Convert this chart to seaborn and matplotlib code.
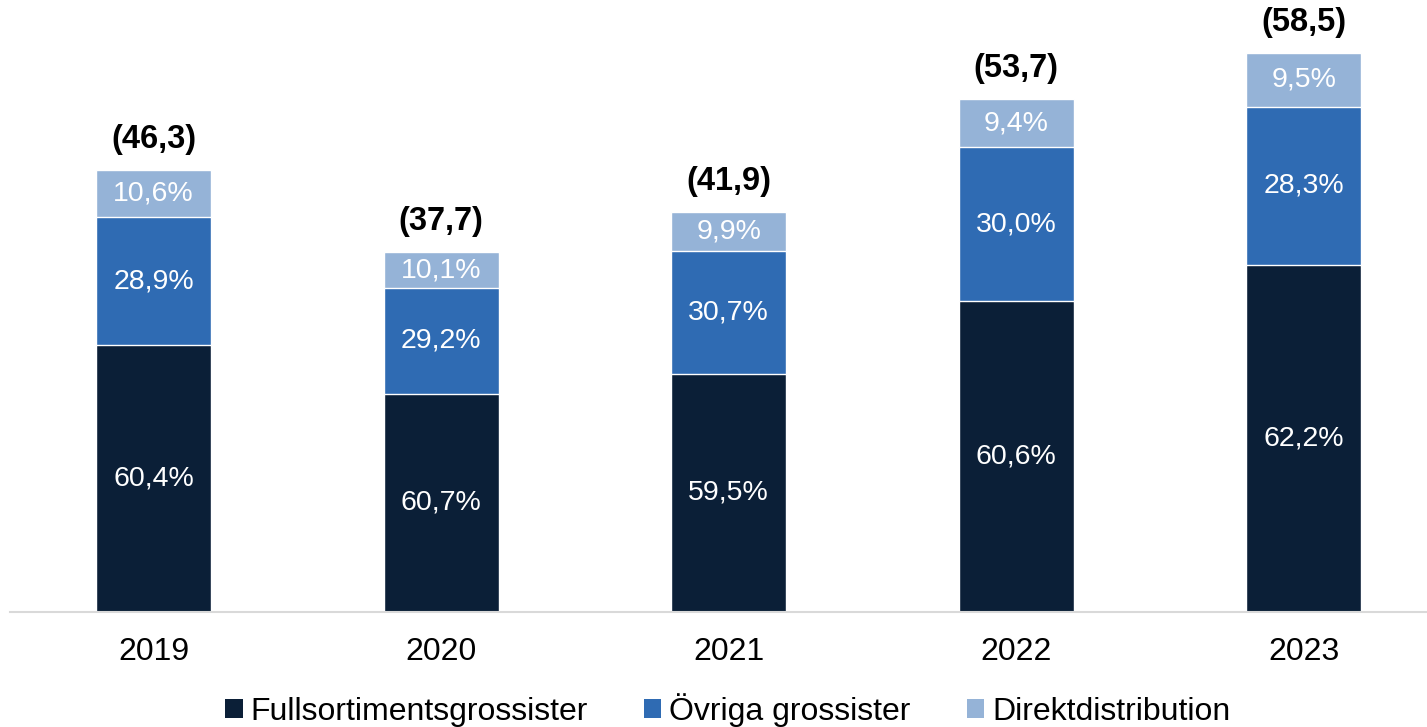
import numpy as np
import pandas as pd
import seaborn as sns
import matplotlib.pyplot as plt
from matplotlib.patches import Patch

# values
years = ["2019", "2020", "2021", "2022", "2023"]
totals = [46.3, 37.7, 41.9, 53.7, 58.5]
full_pct = [60.4, 60.7, 59.5, 60.6, 62.2]
ovriga_pct = [28.9, 29.2, 30.7, 30.0, 28.3]
direkt_pct = [10.6, 10.1, 9.9, 9.4, 9.5]

series = ["Fullsortimentsgrossister", "Övriga grossister", "Direktdistribution"]
colors = ["#0B1F37", "#2F6BB3", "#95B3D7"]

sns.set_style("white")
plt.rcParams["font.family"] = ["Liberation Sans", "DejaVu Sans"]
plt.rcParams["text.color"] = "black"
plt.rcParams["xtick.color"] = "black"

tot = np.array(totals)
h_full = tot * np.array(full_pct) / 100
h_ovr = tot * np.array(ovriga_pct) / 100
h_dir = tot * np.array(direkt_pct) / 100
df = pd.DataFrame({
    "year": years,
    "c1": h_full,
    "c2": h_full + h_ovr,
    "c3": h_full + h_ovr + h_dir,
})

fig = plt.figure(figsize=(14.27, 7.27), dpi=100)
ax = fig.add_axes([9.7 / 1427, 1 - 612 / 727, 1 - 9.7 / 1427, 612 / 727])

# draw from the top cumulative down so the lower parts cover
sns.barplot(data=df, x="year", y="c3", color=colors[2], width=0.4, saturation=1, ax=ax)
sns.barplot(data=df, x="year", y="c2", color=colors[1], width=0.4, saturation=1, ax=ax)
sns.barplot(data=df, x="year", y="c1", color=colors[0], width=0.4, saturation=1, ax=ax)

ax.set_xlim(-0.5, 4.428)
ax.set_ylim(0, 64.1)

# percentage labels in the middle of each segment
for i in range(len(years)):
    bottoms = [0, h_full[i], h_full[i] + h_ovr[i]]
    heights = [h_full[i], h_ovr[i], h_dir[i]]
    pcts = [full_pct[i], ovriga_pct[i], direkt_pct[i]]
    for b, h, p in zip(bottoms, heights, pcts):
        ax.text(i, b + h / 2, f"{p:.1f}%".replace(".", ","), ha="center", va="center",
                color="white", fontsize=20.5)
    ax.annotate(f"({totals[i]:.1f})".replace(".", ","), (i, tot[i]), xytext=(0, 22),
                textcoords="offset points", ha="center", va="center",
                fontsize=23.5, fontweight="bold", color="black")

for s in ["top", "right", "left"]:
    ax.spines[s].set_visible(False)
ax.spines["bottom"].set_color("#D9D9D9")
ax.spines["bottom"].set_linewidth(1.5)
ax.set_yticks([])
ax.set_xlabel("")
ax.set_ylabel("")
ax.tick_params(axis="x", length=0, labelsize=23, pad=18, labelcolor="black")

handles = [Patch(facecolor=c, edgecolor="none", label=s) for c, s in zip(colors, series)]
fig.legend(handles=handles, loc="center", bbox_to_anchor=(0.51, 1 - 710 / 727), ncol=3,
           frameon=False, fontsize=23, handlelength=0.55, handleheight=0.5,
           handletextpad=0.25, columnspacing=1.75, labelcolor="black")

fig.savefig("out.png", dpi=100)
